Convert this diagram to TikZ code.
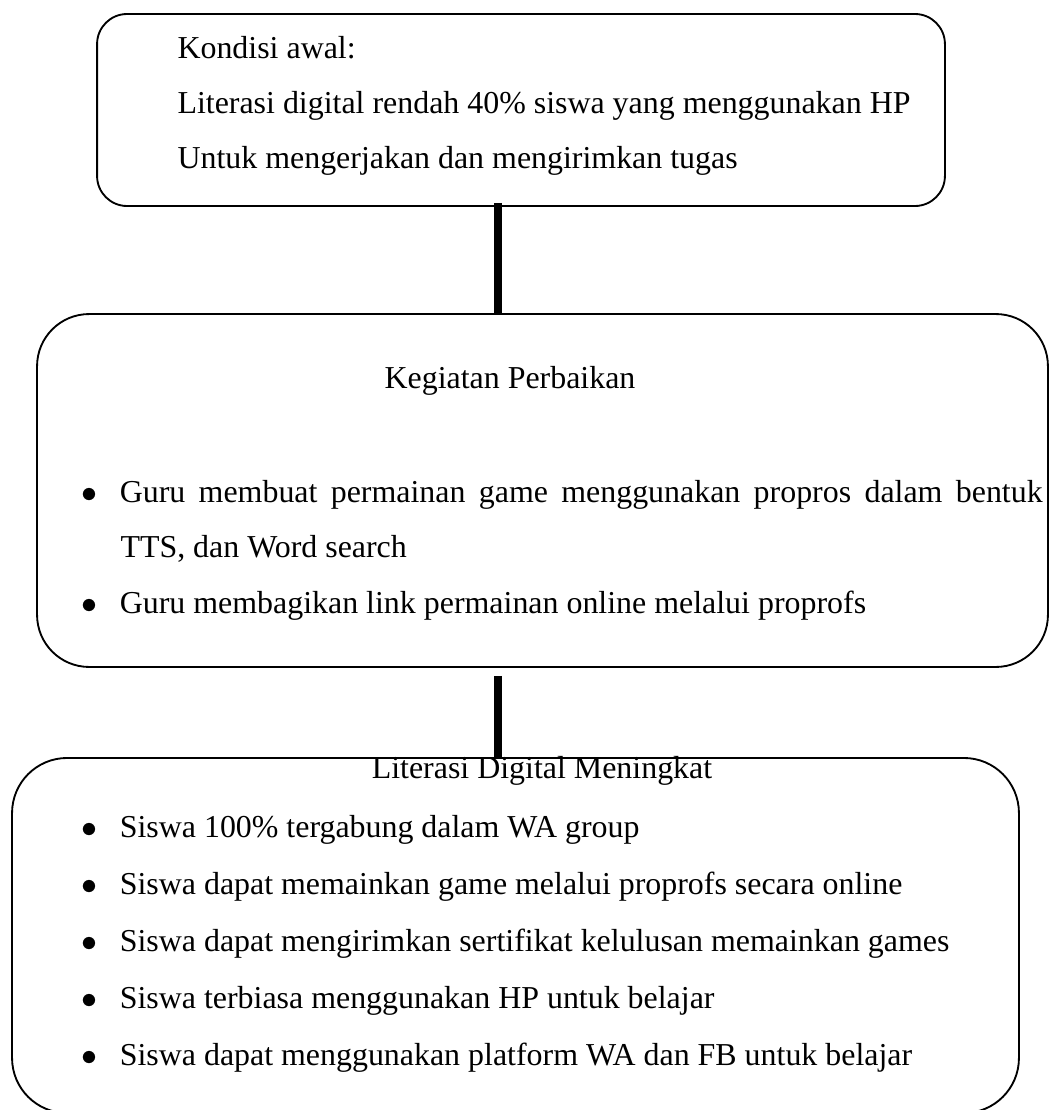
\documentclass[tikz,border=0pt]{standalone}
\usepackage{fontspec}
\setmainfont{Liberation Serif}
\usetikzlibrary{positioning}
\newcommand{\unitpx}{0.376pt}
\newcommand{\listdot}{$\bullet$}
\newlength{\bulletgap}\setlength{\bulletgap}{14.4pt}
\newlength{\fullline}\setlength{\fullline}{347pt}

\begin{document}
\begin{tikzpicture}[x=\unitpx, y=-\unitpx,
        panel/.style={draw, line width=0.7pt, rectangle, inner sep=0pt},
        bar/.style={draw, line width=3pt},
        txt/.style={inner sep=0pt, anchor=base west, font=\fontsize{12pt}{14pt}\selectfont}]
    \path[use as bounding box, clip] (0,0) rectangle (1049,1110);

    % Boxes
    \node [panel, minimum width=318.8pt, minimum height=72.2pt, rounded corners=11.3pt] (kondisi) at (521,110) {};
    \node [panel, minimum width=380.1pt, minimum height=132.7pt, rounded corners=19.6pt] (perbaikan) at (542.5,490.5) {};
    \node [panel, minimum width=378.6pt, minimum height=133.5pt, rounded corners=20.7pt] (hasil) at (515.5,935.5) {};

    % Connectors
    \coordinate (stem) at (498,0);
    \draw [bar] (kondisi.south -| stem) ++(0,-4) -- (perbaikan.north -| stem);
    \draw [bar] (perbaikan.south -| stem) ++(0,8) -- (hasil.north -| stem);

    % Kondisi awal
    \node [txt] (awal) at (177,58) {Kondisi awal:};
    \node [txt] (rendah) at (177,113) {Literasi digital rendah 40\% siswa yang menggunakan HP};
    \node [txt] (tugas) at (177,168) {Untuk mengerjakan dan mengirimkan tugas};

    % Kegiatan perbaikan
    \node [txt, anchor=base] (judul) at (510,388) {Kegiatan Perbaikan};
    \node [txt] (guru1) at (81,502) {\makebox[\bulletgap][l]{\listdot}\makebox[\fullline][s]{Guru membuat permainan game menggunakan propros dalam bentuk}};
    \node [txt] (guru1b) at (120,557) {TTS, dan Word search};
    \node [txt] (guru2) at (81,613) {\makebox[\bulletgap][l]{\listdot}Guru membagikan link permainan online melalui proprofs};

    % Hasil
    \node [txt, anchor=base] (meningkat) at (542,778) {Literasi Digital Meningkat};
    \foreach \t [count=\i from 0] in {Siswa 100\% tergabung dalam WA group,
            Siswa dapat memainkan game melalui proprofs secara online,
            Siswa dapat mengirimkan sertifikat kelulusan memainkan games,
            Siswa terbiasa menggunakan HP untuk belajar,
            Siswa dapat menggunakan platform WA dan FB untuk belajar}
        \node [txt] (siswa\i) at (81,{837+57*\i}) {\makebox[\bulletgap][l]{\listdot}\t};
\end{tikzpicture}
\end{document}
